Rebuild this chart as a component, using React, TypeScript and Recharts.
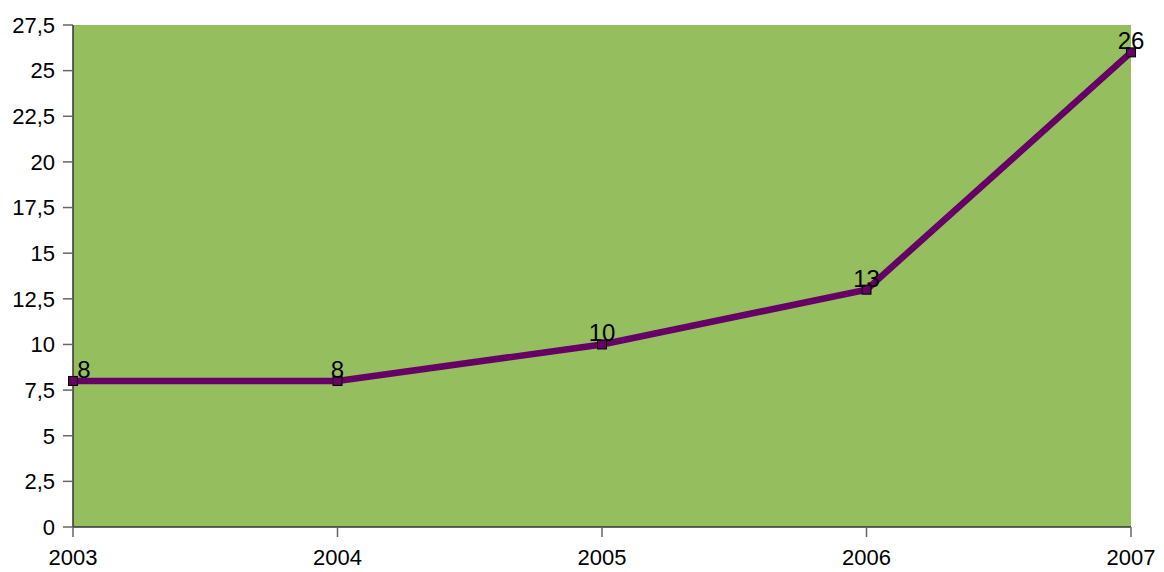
import React from "react";
import { LineChart, Line, XAxis, YAxis, CartesianGrid } from "recharts";

const years = ["2003", "2004", "2005", "2006", "2007"];
const values = [8, 8, 10, 13, 26];
const yTicks = [0, 2.5, 5, 7.5, 10, 12.5, 15, 17.5, 20, 22.5, 25, 27.5];

const data = years.map((y, i) => ({ year: y, value: values[i] }));

const fmt = (v: number) => String(v).replace(".", ",");

const FONT = "Liberation Sans, Arial, sans-serif";

const Square = (props: any) => {
  const { cx, cy } = props;
  if (cx == null || cy == null) return null;
  return <rect x={cx - 4.5} y={cy - 4.5} width={9} height={9} fill="#660066" stroke="#000" strokeWidth={1} />;
};

const Lbl = (props: any) => {
  const { x, y, value, index } = props;
  const dx = index === 0 ? 11 : 0;
  return (
    <text x={x + dx} y={y - 3} textAnchor="middle" fontSize={24} fill="#000" fontFamily={FONT}>
      {value}
    </text>
  );
};

export default function App() {
  return (
    <div style={{ position: "absolute", left: 0, top: 0, background: "#fff" }}>
      <LineChart width={1164} height={572} data={data} margin={{ top: 25, right: 33, left: 0, bottom: 0 }}>
        <CartesianGrid fill="#95BE5F" horizontal={false} vertical={false} stroke="none" />
        <XAxis
          dataKey="year"
          height={45}
          axisLine={{ stroke: "#333", strokeWidth: 1.5 }}
          tickLine={{ stroke: "#666", strokeWidth: 1.5 }}
          tickSize={10}
          tick={{ fontSize: 22, fill: "#000", fontFamily: FONT }}
          tickMargin={12}
          interval={0}
        />
        <YAxis
          width={73}
          domain={[0, 27.5]}
          ticks={yTicks}
          tickFormatter={fmt}
          axisLine={{ stroke: "#333", strokeWidth: 1.5 }}
          tickLine={{ stroke: "#666", strokeWidth: 1.5 }}
          tickSize={10}
          tickMargin={8}
          tick={{ fontSize: 22, fill: "#000", fontFamily: FONT }}
          interval={0}
        />
        <Line
          type="linear"
          dataKey="value"
          stroke="#660066"
          strokeWidth={6.5}
          dot={<Square />}
          activeDot={false}
          isAnimationActive={false}
          label={<Lbl />}
        />
      </LineChart>
    </div>
  );
}
